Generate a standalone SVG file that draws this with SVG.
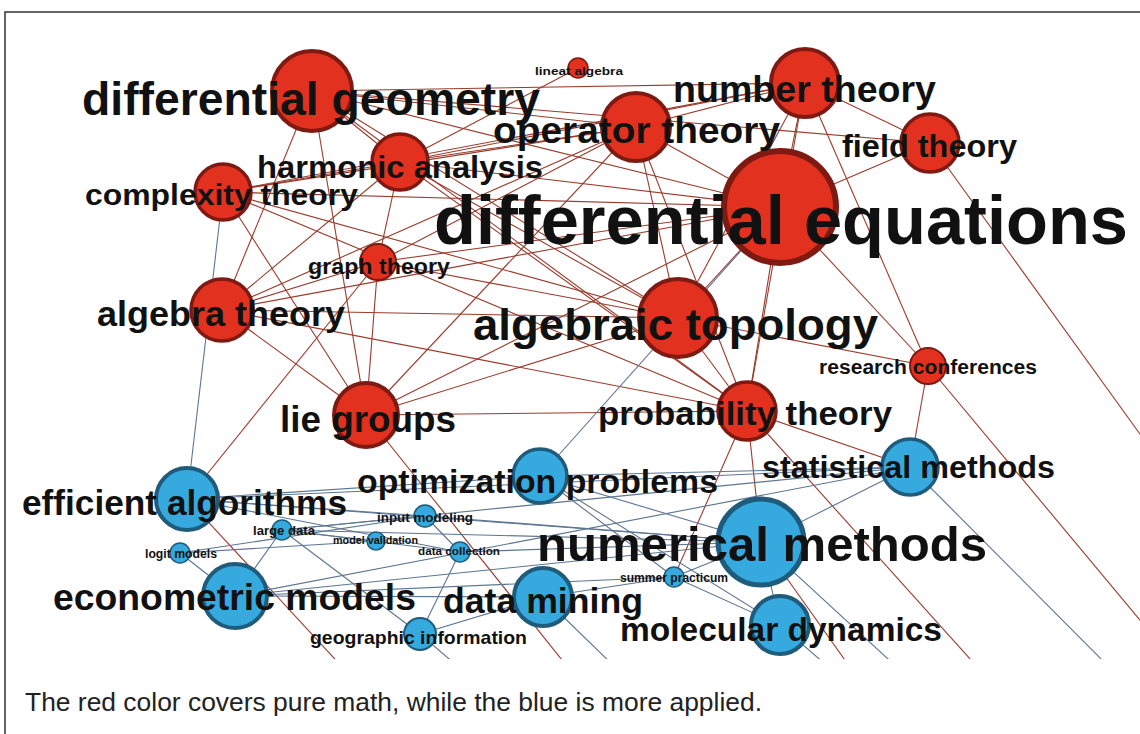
<svg xmlns="http://www.w3.org/2000/svg" width="1140" height="734" viewBox="0 0 1140 734">
<style>
.er line{stroke:#9a3b2c;stroke-width:1.1}
.eb line{stroke:#5b7592;stroke-width:1.1}
.nr{fill:#e2311f;stroke:#7e1a12}
.nb{fill:#36a9de;stroke:#1f5c7c}
text{font-family:"Liberation Sans",Arial,Helvetica,sans-serif;font-weight:bold;fill:#111}
.cap{font-weight:normal;fill:#222}
</style>
<defs>
<clipPath id="img"><rect x="18" y="47" width="1122" height="612"/></clipPath>
</defs>
<rect width="1140" height="734" fill="#fff"/>
<path d="M5,734 V12 H1140" fill="none" stroke="#333" stroke-width="1.5"/>
<g id="connectors" clip-path="url(#img)">
<g class="er">
<line x1="312" y1="91" x2="805" y2="83"/>
<line x1="312" y1="91" x2="636" y2="127"/>
<line x1="312" y1="91" x2="930" y2="143"/>
<line x1="312" y1="91" x2="400" y2="162"/>
<line x1="312" y1="91" x2="780" y2="207"/>
<line x1="312" y1="91" x2="222" y2="310"/>
<line x1="312" y1="91" x2="366" y2="415"/>
<line x1="312" y1="91" x2="678" y2="318"/>
<line x1="312" y1="91" x2="747" y2="411"/>
<line x1="578" y1="68" x2="400" y2="162"/>
<line x1="805" y1="83" x2="930" y2="143"/>
<line x1="805" y1="83" x2="636" y2="127"/>
<line x1="805" y1="83" x2="400" y2="162"/>
<line x1="805" y1="83" x2="780" y2="207"/>
<line x1="805" y1="83" x2="678" y2="318"/>
<line x1="805" y1="83" x2="928" y2="366"/>
<line x1="805" y1="83" x2="223" y2="192"/>
<line x1="805" y1="83" x2="747" y2="411"/>
<line x1="636" y1="127" x2="400" y2="162"/>
<line x1="636" y1="127" x2="780" y2="207"/>
<line x1="636" y1="127" x2="678" y2="318"/>
<line x1="636" y1="127" x2="747" y2="411"/>
<line x1="636" y1="127" x2="223" y2="192"/>
<line x1="636" y1="127" x2="222" y2="310"/>
<line x1="636" y1="127" x2="378" y2="262"/>
<line x1="636" y1="127" x2="366" y2="415"/>
<line x1="930" y1="143" x2="780" y2="207"/>
<line x1="930" y1="143" x2="1150" y2="448"/>
<line x1="400" y1="162" x2="223" y2="192"/>
<line x1="400" y1="162" x2="780" y2="207"/>
<line x1="400" y1="162" x2="222" y2="310"/>
<line x1="400" y1="162" x2="678" y2="318"/>
<line x1="400" y1="162" x2="747" y2="411"/>
<line x1="400" y1="162" x2="378" y2="262"/>
<line x1="223" y1="192" x2="780" y2="207"/>
<line x1="223" y1="192" x2="678" y2="318"/>
<line x1="223" y1="192" x2="747" y2="411"/>
<line x1="223" y1="192" x2="366" y2="415"/>
<line x1="780" y1="207" x2="378" y2="262"/>
<line x1="780" y1="207" x2="222" y2="310"/>
<line x1="780" y1="207" x2="678" y2="318"/>
<line x1="780" y1="207" x2="747" y2="411"/>
<line x1="780" y1="207" x2="928" y2="366"/>
<line x1="780" y1="207" x2="366" y2="415"/>
<line x1="378" y1="262" x2="222" y2="310"/>
<line x1="378" y1="262" x2="678" y2="318"/>
<line x1="378" y1="262" x2="366" y2="415"/>
<line x1="378" y1="262" x2="187" y2="499"/>
<line x1="222" y1="310" x2="678" y2="318"/>
<line x1="222" y1="310" x2="366" y2="415"/>
<line x1="222" y1="310" x2="747" y2="411"/>
<line x1="678" y1="318" x2="928" y2="366"/>
<line x1="678" y1="318" x2="747" y2="411"/>
<line x1="678" y1="318" x2="366" y2="415"/>
<line x1="366" y1="415" x2="747" y2="411"/>
<line x1="928" y1="366" x2="1150" y2="632"/>
<line x1="928" y1="366" x2="910" y2="467"/>
<line x1="747" y1="411" x2="910" y2="467"/>
<line x1="747" y1="411" x2="674" y2="577"/>
<line x1="747" y1="411" x2="761" y2="542"/>
<line x1="747" y1="411" x2="980" y2="670"/>
<line x1="187" y1="499" x2="345" y2="670"/>
<line x1="366" y1="415" x2="570" y2="670"/>
<line x1="761" y1="542" x2="852" y2="670"/>
</g>
<g class="eb">
<line x1="223" y1="192" x2="187" y2="499"/>
<line x1="780" y1="207" x2="540" y2="476"/>
<line x1="187" y1="499" x2="540" y2="476"/>
<line x1="187" y1="499" x2="425" y2="516"/>
<line x1="187" y1="499" x2="761" y2="542"/>
<line x1="187" y1="499" x2="910" y2="467"/>
<line x1="187" y1="499" x2="460" y2="552"/>
<line x1="282" y1="530" x2="235" y2="596"/>
<line x1="282" y1="530" x2="425" y2="516"/>
<line x1="282" y1="530" x2="376" y2="541"/>
<line x1="282" y1="530" x2="460" y2="552"/>
<line x1="282" y1="530" x2="910" y2="467"/>
<line x1="282" y1="530" x2="420" y2="634"/>
<line x1="282" y1="530" x2="761" y2="542"/>
<line x1="180" y1="553" x2="425" y2="516"/>
<line x1="180" y1="553" x2="376" y2="541"/>
<line x1="180" y1="553" x2="235" y2="596"/>
<line x1="540" y1="476" x2="761" y2="542"/>
<line x1="540" y1="476" x2="910" y2="467"/>
<line x1="540" y1="476" x2="780" y2="625"/>
<line x1="540" y1="476" x2="674" y2="577"/>
<line x1="425" y1="516" x2="460" y2="552"/>
<line x1="425" y1="516" x2="761" y2="542"/>
<line x1="460" y1="552" x2="420" y2="634"/>
<line x1="460" y1="552" x2="761" y2="542"/>
<line x1="761" y1="542" x2="910" y2="467"/>
<line x1="761" y1="542" x2="780" y2="625"/>
<line x1="761" y1="542" x2="674" y2="577"/>
<line x1="235" y1="596" x2="761" y2="542"/>
<line x1="235" y1="596" x2="543" y2="597"/>
<line x1="235" y1="596" x2="910" y2="467"/>
<line x1="235" y1="596" x2="674" y2="577"/>
<line x1="420" y1="634" x2="543" y2="597"/>
<line x1="420" y1="634" x2="462" y2="670"/>
<line x1="543" y1="597" x2="674" y2="577"/>
<line x1="543" y1="597" x2="618" y2="670"/>
<line x1="910" y1="467" x2="1112" y2="670"/>
<line x1="761" y1="542" x2="900" y2="670"/>
<line x1="780" y1="625" x2="832" y2="670"/>
<line x1="674" y1="577" x2="780" y2="625"/>
</g>
</g>
<g id="nodes">
<g id="n-differential-equations"><circle class="nr" cx="780" cy="207" r="56" stroke-width="6"/></g>
<g id="n-differential-geometry"><circle class="nr" cx="312" cy="91" r="40" stroke-width="4"/></g>
<g id="n-lineat-algebra"><circle class="nr" cx="578" cy="68" r="10" stroke-width="1.5"/></g>
<g id="n-number-theory"><circle class="nr" cx="805" cy="83" r="34" stroke-width="4"/></g>
<g id="n-operator-theory"><circle class="nr" cx="636" cy="127" r="34" stroke-width="4"/></g>
<g id="n-field-theory"><circle class="nr" cx="930" cy="143" r="29" stroke-width="3.5"/></g>
<g id="n-harmonic-analysis"><circle class="nr" cx="400" cy="162" r="28" stroke-width="3.5"/></g>
<g id="n-complexity-theory"><circle class="nr" cx="223" cy="192" r="28" stroke-width="3.5"/></g>
<g id="n-graph-theory"><circle class="nr" cx="378" cy="262" r="18" stroke-width="2"/></g>
<g id="n-algebra-theory"><circle class="nr" cx="222" cy="310" r="31" stroke-width="3.5"/></g>
<g id="n-algebraic-topology"><circle class="nr" cx="678" cy="318" r="39" stroke-width="4"/></g>
<g id="n-research-conferences"><circle class="nr" cx="928" cy="366" r="18" stroke-width="2"/></g>
<g id="n-lie-groups"><circle class="nr" cx="366" cy="415" r="32" stroke-width="4"/></g>
<g id="n-probability-theory"><circle class="nr" cx="747" cy="411" r="29" stroke-width="3.5"/></g>
<g id="n-statistical-methods"><circle class="nb" cx="910" cy="467" r="28" stroke-width="3.5"/></g>
<g id="n-optimization-problems"><circle class="nb" cx="540" cy="476" r="27" stroke-width="3.5"/></g>
<g id="n-efficient-algorithms"><circle class="nb" cx="187" cy="499" r="31" stroke-width="4"/></g>
<g id="n-large-data"><circle class="nb" cx="282" cy="530" r="10" stroke-width="1.5"/></g>
<g id="n-input-modeling"><circle class="nb" cx="425" cy="516" r="11" stroke-width="1.5"/></g>
<g id="n-model-validation"><circle class="nb" cx="376" cy="541" r="9" stroke-width="1.5"/></g>
<g id="n-data-collection"><circle class="nb" cx="460" cy="552" r="10" stroke-width="1.5"/></g>
<g id="n-logit-models"><circle class="nb" cx="180" cy="553" r="10" stroke-width="1.5"/></g>
<g id="n-numerical-methods"><circle class="nb" cx="761" cy="542" r="43" stroke-width="5"/></g>
<g id="n-summer-practicum"><circle class="nb" cx="674" cy="577" r="10" stroke-width="1.5"/></g>
<g id="n-econometric-models"><circle class="nb" cx="235" cy="596" r="32" stroke-width="4"/></g>
<g id="n-data-mining"><circle class="nb" cx="543" cy="597" r="29" stroke-width="4"/></g>
<g id="n-geographic-information"><circle class="nb" cx="420" cy="634" r="16" stroke-width="2"/></g>
<g id="n-molecular-dynamics"><circle class="nb" cx="780" cy="625" r="29" stroke-width="4"/></g>
</g>
<g id="labels">
<text x="82" y="115" font-size="46" textLength="458" lengthAdjust="spacingAndGlyphs">differential geometry</text>
<text x="535" y="75" font-size="11" textLength="88" lengthAdjust="spacingAndGlyphs">lineat algebra</text>
<text x="673" y="102" font-size="36" textLength="263" lengthAdjust="spacingAndGlyphs">number theory</text>
<text x="493" y="143" font-size="36" textLength="287" lengthAdjust="spacingAndGlyphs">operator theory</text>
<text x="842" y="157" font-size="32" textLength="175" lengthAdjust="spacingAndGlyphs">field theory</text>
<text x="257" y="178" font-size="32" textLength="286" lengthAdjust="spacingAndGlyphs">harmonic analysis</text>
<text x="85" y="205" font-size="30" textLength="273" lengthAdjust="spacingAndGlyphs">complexity theory</text>
<text x="434" y="244" font-size="68" textLength="694" lengthAdjust="spacingAndGlyphs">differential equations</text>
<text x="308" y="274" font-size="22" textLength="142" lengthAdjust="spacingAndGlyphs">graph theory</text>
<text x="97" y="326" font-size="35" textLength="248" lengthAdjust="spacingAndGlyphs">algebra theory</text>
<text x="473" y="340" font-size="44" textLength="405" lengthAdjust="spacingAndGlyphs">algebraic topology</text>
<text x="819" y="374" font-size="20" textLength="218" lengthAdjust="spacingAndGlyphs">research conferences</text>
<text x="280" y="432" font-size="36" textLength="176" lengthAdjust="spacingAndGlyphs">lie groups</text>
<text x="598" y="425" font-size="34" textLength="294" lengthAdjust="spacingAndGlyphs">probability theory</text>
<text x="762" y="478" font-size="32" textLength="293" lengthAdjust="spacingAndGlyphs">statistical methods</text>
<text x="357" y="493" font-size="33" textLength="361" lengthAdjust="spacingAndGlyphs">optimization problems</text>
<text x="22" y="515" font-size="35" textLength="325" lengthAdjust="spacingAndGlyphs">efficient algorithms</text>
<text x="253" y="535" font-size="13" textLength="62" lengthAdjust="spacingAndGlyphs">large data</text>
<text x="377" y="522" font-size="13" textLength="96" lengthAdjust="spacingAndGlyphs">input modeling</text>
<text x="333" y="544" font-size="11" textLength="85" lengthAdjust="spacingAndGlyphs">model validation</text>
<text x="418" y="555" font-size="11.5" textLength="82" lengthAdjust="spacingAndGlyphs">data collection</text>
<text x="145" y="558" font-size="12" textLength="72" lengthAdjust="spacingAndGlyphs">logit models</text>
<text x="537" y="561" font-size="48" textLength="450" lengthAdjust="spacingAndGlyphs">numerical methods</text>
<text x="620" y="582" font-size="12" textLength="108" lengthAdjust="spacingAndGlyphs">summer practicum</text>
<text x="53" y="610" font-size="37" textLength="363" lengthAdjust="spacingAndGlyphs">econometric models</text>
<text x="443" y="613" font-size="35" textLength="200" lengthAdjust="spacingAndGlyphs">data mining</text>
<text x="310" y="644" font-size="19" textLength="217" lengthAdjust="spacingAndGlyphs">geographic information</text>
<text x="620" y="641" font-size="33" textLength="322" lengthAdjust="spacingAndGlyphs">molecular dynamics</text>
</g>
<text class="cap" x="25" y="711" font-size="26" textLength="737" lengthAdjust="spacingAndGlyphs">The red color covers pure math, while the blue is more applied.</text>
</svg>
